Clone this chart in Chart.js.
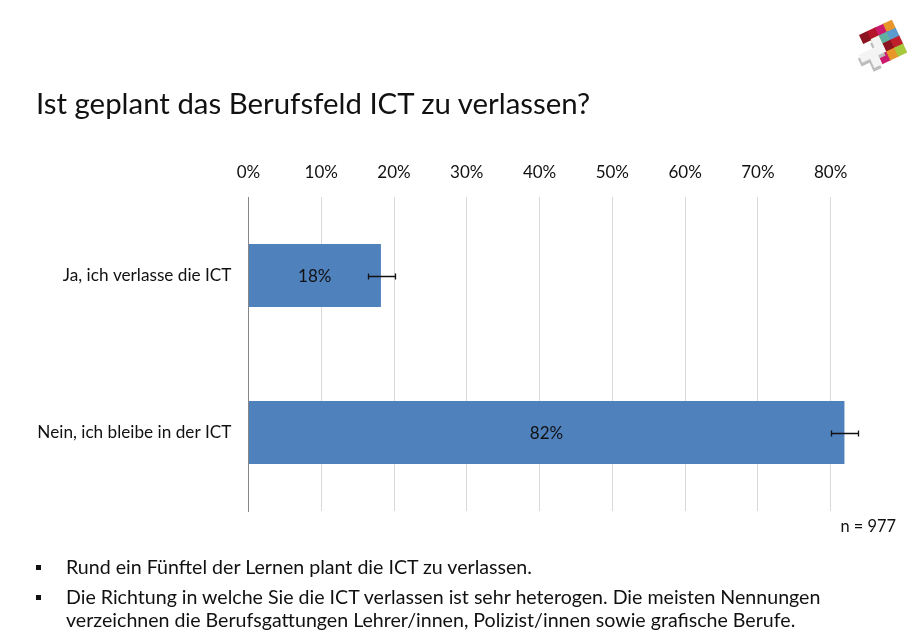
<!DOCTYPE html>
<html lang="de">
<head>
<meta charset="utf-8">
<title>Berufsfeld ICT</title>
<script src="https://cdn.jsdelivr.net/npm/chart.js@4"></script>
<style>
    html, body { margin: 0; padding: 0; background: #fff; }
    body { width: 924px; height: 640px; position: relative; overflow: hidden; font-family: Lato, sans-serif; color: #111; }
    #chartBox { position: absolute; left: 0; top: 0; width: 924px; height: 640px; }
    h1 { position: absolute; left: 36px; top: 85px; margin: 0; font-size: 29.4px; line-height: 36px; font-weight: 400; white-space: nowrap; }
    #nValue { position: absolute; right: 28px; top: 516px; font-size: 16.4px; line-height: 20px; }
    .point { position: absolute; left: 66px; font-size: 19.6px; line-height: 23px; white-space: nowrap; }
    .point::before { content: ""; position: absolute; left: -30px; top: 10px; width: 5px; height: 5px; background: #111; }
    #logo { position: absolute; left: 840px; top: 10px; }
</style>
</head>
<body>
<div id="chartBox"><canvas id="leaveChart"></canvas></div>
<h1>Ist geplant das Berufsfeld ICT zu verlassen?</h1>
<div id="nValue">n = 977</div>
<div class="point" style="top:555px">Rund ein Fünftel der Lernen plant die ICT zu verlassen.</div>
<div class="point" style="top:585px">Die Richtung in welche Sie die ICT verlassen ist sehr heterogen. Die meisten Nennungen<br>verzeichnen die Berufsgattungen Lehrer/innen, Polizist/innen sowie grafische Berufe.</div>

<svg id="logo" width="84" height="70" viewBox="0 0 84 70">
    <g transform="translate(19 25) rotate(-25) scale(1.1)">
        <rect x="0" y="0" width="9" height="9" fill="#8c1420"/>
        <rect x="8" y="0" width="9" height="9" fill="#b5152b"/>
        <rect x="16" y="0" width="9" height="9" fill="#cc1a6e"/>
        <rect x="24" y="0" width="9" height="9" fill="#e8962a"/>
        <rect x="8" y="8" width="9" height="9" fill="#a5c83c"/>
        <rect x="16" y="8" width="9" height="9" fill="#5fb0a0"/>
        <rect x="24" y="8" width="9" height="9" fill="#5b9bd0"/>
        <rect x="16" y="16" width="9" height="9" fill="#8c1420"/>
        <rect x="24" y="16" width="9" height="9" fill="#c0202c"/>
        <rect x="8" y="24" width="9" height="9" fill="#cc1a6e"/>
        <rect x="16" y="24" width="9" height="9" fill="#e8962a"/>
        <rect x="24" y="24" width="9" height="9" fill="#a5c83c"/>
        <path d="M0 16 h8 v-8 h8 v8 h0 v8 h-8 v9 h-8 v-9 h-8 v-8 h8z" fill="#bdbdbd" transform="translate(-2 3)"/>
        <path d="M0 16 h8 v-8 h8 v8 h0 v8 h-8 v9 h-8 v-9 h-8 v-8 h8z" fill="#f4f4f4"/>
    </g>
</svg>

<script>
// Values
const categories = ['Ja, ich verlasse die ICT', 'Nein, ich bleibe in der ICT'];
const shares = [18.2, 81.9];
const shareLabels = ['18%', '82%'];
const errorLow = [16.4, 80];
const errorHigh = [20.1, 83.7];
const axisTicks = [0, 10, 20, 30, 40, 50, 60, 70, 80];

const labelFont = "17px Lato, sans-serif";

// Labels in the middle of each bar
const barLabelPlugin = {
    id: 'barLabels',
    afterDatasetsDraw(chart) {
        const ctx = chart.ctx;
        const xScale = chart.scales.x;
        const yScale = chart.scales.y;
        ctx.save();
        ctx.font = labelFont;
        ctx.fillStyle = '#111';
        ctx.textAlign = 'center';
        ctx.textBaseline = 'middle';
        shares.forEach((value, i) => {
            const mid = (xScale.getPixelForValue(0) + xScale.getPixelForValue(value)) / 2;
            ctx.fillText(shareLabels[i], mid, yScale.getPixelForValue(i) + 1.5);
        });
        ctx.restore();
    }
};

// Error whiskers
const errorBarPlugin = {
    id: 'errorBars',
    afterDatasetsDraw(chart) {
        const ctx = chart.ctx;
        const xScale = chart.scales.x;
        const yScale = chart.scales.y;
        ctx.save();
        ctx.strokeStyle = '#111';
        ctx.lineWidth = 1.3;
        categories.forEach((name, i) => {
            const y = Math.round(yScale.getPixelForValue(i)) + 0.5;
            const x1 = Math.round(xScale.getPixelForValue(errorLow[i])) + 0.5;
            const x2 = Math.round(xScale.getPixelForValue(errorHigh[i])) + 0.5;
            ctx.beginPath();
            ctx.moveTo(x1, y);
            ctx.lineTo(x2, y);
            ctx.moveTo(x1, y - 3);
            ctx.lineTo(x1, y + 3);
            ctx.moveTo(x2, y - 3);
            ctx.lineTo(x2, y + 3);
            ctx.stroke();
        });
        ctx.restore();
    }
};

new Chart(document.getElementById('leaveChart'), {
    type: 'bar',
    data: {
        labels: categories,
        datasets: [{
            data: shares,
            backgroundColor: '#4f81bd',
            barPercentage: 0.4,
            categoryPercentage: 1
        }]
    },
    options: {
        indexAxis: 'y',
        responsive: true,
        maintainAspectRatio: false,
        animation: false,
        layout: { padding: { top: 0, right: 57, bottom: 129, left: 0 } },
        plugins: {
            legend: { display: false },
            title: { display: false },
            tooltip: { enabled: false }
        },
        scales: {
            x: {
                position: 'top',
                min: 0,
                max: 85,
                afterBuildTicks(scale) {
                    scale.ticks = axisTicks.map(value => ({ value: value }));
                },
                afterFit(scale) { scale.height = 197; },
                grid: { color: '#d9d9d9', lineWidth: 1, drawTicks: false },
                border: { display: false },
                ticks: {
                    padding: 14,
                    maxRotation: 0,
                    color: '#111',
                    font: { family: 'Lato, sans-serif', size: 17 },
                    callback: value => value + '%'
                }
            },
            y: {
                afterFit(scale) { scale.width = 248.5; },
                grid: { display: false, drawTicks: false },
                border: { display: true, color: '#868686', width: 1 },
                ticks: {
                    padding: 17,
                    color: '#111',
                    font: { family: 'Lato, sans-serif', size: 17.2 }
                }
            }
        }
    },
    plugins: [barLabelPlugin, errorBarPlugin]
});
</script>
</body>
</html>
